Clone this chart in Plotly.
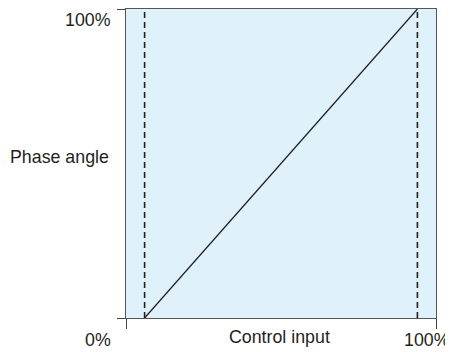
import plotly.graph_objects as go

# Data
control_input = [6, 94]        # % control input where the ramp starts / ends
phase_angle = [0, 100]         # % phase angle
limit_lines = [6, 94]          # dashed limit lines (x positions)
axis_range = [0, 100]
y_tick_labels = ["0%", "100%"]
x_tick_labels = ["0%", "100%"]
x_title = "Control input"
y_title = "Phase angle"

OFF = 8  # page body margin
W, H = 453 - OFF, 352 - OFF
L, R, T, B = 126 - OFF, 17, 9 - OFF, 34
pw, ph = W - L - R, H - T - B

def px_x(p):
    return (p - OFF - L) / pw

def px_y(p):
    return (H - B - (p - OFF)) / ph

FONT = "Liberation Sans, Arial, sans-serif"
TXT = "#231f20"

fig = go.Figure()

for xv in limit_lines:
    fig.add_trace(go.Scatter(
        x=[xv, xv], y=axis_range, mode="lines",
        line=dict(color="#231f20", width=1.6, dash="6px,4px"),
        hoverinfo="skip", showlegend=False))

fig.add_trace(go.Scatter(
    x=control_input, y=phase_angle, mode="lines",
    line=dict(color="#231f20", width=1.3),
    hoverinfo="skip", showlegend=False))

annos = [
    dict(text=y_tick_labels[1], x=px_x(113), y=px_y(20), xanchor="right", yanchor="middle"),
    dict(text=y_tick_labels[0], x=px_x(113), y=px_y(340), xanchor="right", yanchor="middle"),
    dict(text=x_tick_labels[1], x=px_x(452), y=px_y(340), xanchor="right", yanchor="middle"),
    dict(text=y_title, x=px_x(111), y=px_y(157), xanchor="right", yanchor="middle"),
    dict(text=x_title, x=px_x(279), y=px_y(337), xanchor="center", yanchor="middle"),
]
for a in annos:
    a.update(xref="paper", yref="paper", showarrow=False,
             font=dict(family=FONT, size=17.8, color=TXT))
    fig.add_annotation(**a)

axis_common = dict(range=axis_range, tickvals=axis_range, showticklabels=False,
                   ticks="outside", showline=True, mirror=True, linecolor="#555555",
                   linewidth=1.2, tickcolor="#444444", tickwidth=1.2,
                   showgrid=False, zeroline=False, fixedrange=True)

fig.update_xaxes(**axis_common, ticklen=10)
fig.update_yaxes(**axis_common, ticklen=8)

fig.update_layout(
    width=W, height=H,
    margin=dict(l=L, r=R, t=T, b=B, pad=0, autoexpand=False),
    paper_bgcolor="white", plot_bgcolor="#dff1fb",
    showlegend=False,
)

fig.write_html("out.html")
